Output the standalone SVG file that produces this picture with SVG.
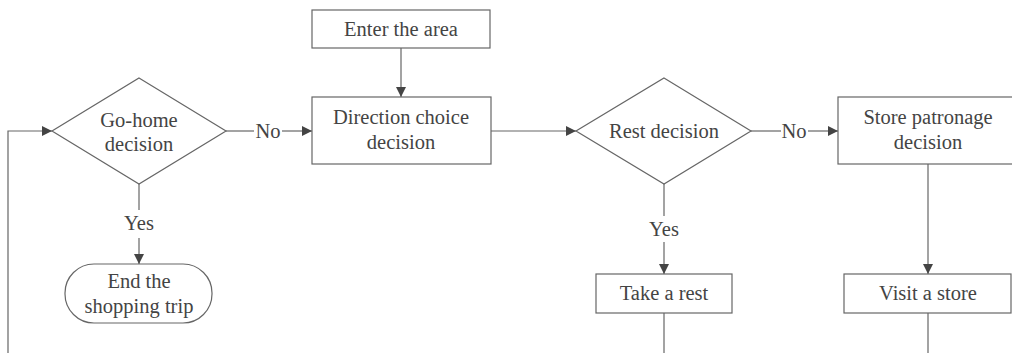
<svg xmlns="http://www.w3.org/2000/svg" width="1012" height="353" viewBox="0 0 1012 353">
<defs>
<marker id="ah" markerWidth="10" markerHeight="10" refX="10" refY="5" orient="auto" markerUnits="userSpaceOnUse">
<path d="M0,0 L10,5 L0,10 Z" fill="#444"/>
</marker>
<style>
.sh{fill:#fff;stroke:#666;stroke-width:1.2}
.ln{fill:none;stroke:#666;stroke-width:1.2}
.ar{fill:none;stroke:#666;stroke-width:1.2;marker-end:url(#ah)}
text{font-family:"Liberation Serif","Times New Roman",serif;font-size:20.5px;fill:#444;text-anchor:middle}
</style>
</defs>
<rect width="1012" height="353" fill="#fff"/>
<g id="connectors">
<path class="ar" d="M8,353 L8,131 L52,131"/>
<path class="ln" d="M226,131 L254,131"/>
<path class="ar" d="M282,131 L312,131"/>
<path class="ar" d="M401,48 L401,97"/>
<path class="ar" d="M491,131 L576,131"/>
<path class="ln" d="M751,131 L781,131"/>
<path class="ar" d="M808,131 L838,131"/>
<path class="ln" d="M139,184 L139,210"/>
<path class="ar" d="M139,238 L139,264"/>
<path class="ln" d="M664,184 L664,216"/>
<path class="ar" d="M664,242 L664,274"/>
<path class="ar" d="M928,164 L928,274"/>
<path class="ln" d="M664,313 L664,353"/>
<path class="ln" d="M928,313 L928,353"/>
<text x="268" y="138">No</text>
<text x="794" y="138">No</text>
<text x="139" y="230">Yes</text>
<text x="664" y="236">Yes</text>
</g>
<g id="enter">
<rect class="sh" x="312" y="10" width="178" height="38"/>
<text x="401" y="36">Enter the area</text>
</g>
<g id="gohome">
<path class="sh" d="M139,78 L226,131 L139,184 L52,131 Z"/>
<text x="139" y="127">Go-home</text>
<text x="139" y="151">decision</text>
</g>
<g id="direction">
<rect class="sh" x="312" y="97" width="179" height="67"/>
<text x="401" y="124">Direction choice</text>
<text x="401" y="149">decision</text>
</g>
<g id="rest">
<path class="sh" d="M664,78 L751,131 L664,184 L576,131 Z"/>
<text x="664" y="138">Rest decision</text>
</g>
<g id="store">
<rect class="sh" x="838" y="97" width="180" height="67"/>
<text x="928" y="124">Store patronage</text>
<text x="928" y="149">decision</text>
</g>
<g id="end">
<rect class="sh" x="65" y="264" width="147" height="59" rx="29" ry="29"/>
<text x="139" y="288">End the</text>
<text x="139" y="313">shopping trip</text>
</g>
<g id="takerest">
<rect class="sh" x="596" y="274" width="136" height="39"/>
<text x="664" y="300">Take a rest</text>
</g>
<g id="visit">
<rect class="sh" x="844" y="274" width="167" height="39"/>
<text x="928" y="300">Visit a store</text>
</g>
</svg>
